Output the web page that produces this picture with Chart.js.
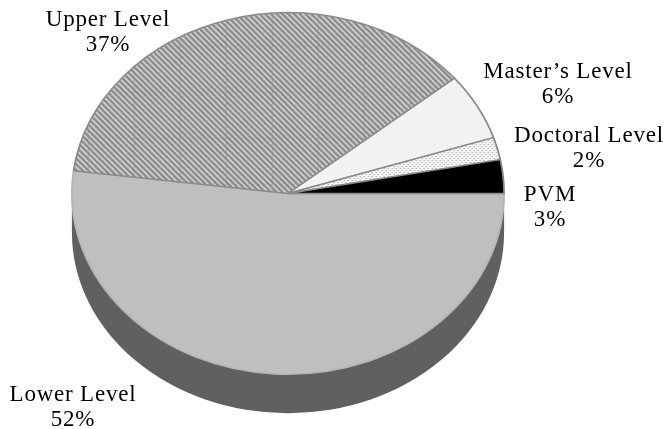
<!DOCTYPE html>
<html>
<head>
<meta charset="utf-8">
<style>
  html, body { margin: 0; padding: 0; background: #fff; }
  #wrap { width: 666px; height: 429px; position: relative; }
</style>
<script src="https://cdn.jsdelivr.net/npm/chart.js@4"></script>
</head>
<body>
<div id="wrap"><canvas id="pieChart" width="666" height="429"></canvas></div>
<script>
const categorias = ['Lower Level', 'Upper Level', "Master's Level", 'Doctoral Level', 'PVM'];
const porcentajes = [52, 37, 6, 2, 3];

// Pie is a circle in chart space; we squash it on x to get the tilted look
const ESCALA_X = 217 / 181.5;
const PROFUNDIDAD = 39;

function patronRayas() {
    const c = document.createElement('canvas');
    c.width = 46; c.height = 46;
    const g = c.getContext('2d');
    g.fillStyle = '#8c8c8c';
    g.fillRect(0, 0, 46, 46);
    g.strokeStyle = '#e4e4e4';
    g.lineWidth = 1.3;
    for (let i = -46; i <= 92; i += 5.75) {
        g.beginPath();
        g.moveTo(i, 0);
        g.lineTo(i + 46, 46);
        g.stroke();
    }
    // faint vertical seams of the original hatch
    g.fillStyle = 'rgba(140,140,140,0.5)';
    g.fillRect(6, 0, 1, 46);
    return c;
}

function patronPuntos() {
    const c = document.createElement('canvas');
    c.width = 4; c.height = 4;
    const g = c.getContext('2d');
    g.fillStyle = '#f4f4f4';
    g.fillRect(0, 0, 4, 4);
    g.fillStyle = '#9a9a9a';
    g.fillRect(0, 0, 1, 1);
    g.fillRect(2, 2, 1, 1);
    return c;
}

function crearPatron(lienzo) {
    const ctx = document.createElement('canvas').getContext('2d');
    const p = ctx.createPattern(lienzo, 'repeat');
    // cancel the x squash so the pattern stays square on screen
    p.setTransform(new DOMMatrix().scale(1 / ESCALA_X, 1));
    return p;
}

const coloresFondo = ['#bfbfbf', crearPatron(patronRayas()), '#f2f2f2', crearPatron(patronPuntos()), '#000000'];
const coloresBorde = ['#b4b4b4', '#8a8a8a', '#8a8a8a', '#8a8a8a', '#8a8a8a'];

const pie3d = {
    id: 'pie3d',
    beforeDatasetsDraw(chart) {
        const ctx = chart.ctx;
        const arc = chart.getDatasetMeta(0).data[0];
        const cx = arc.x, cy = arc.y, r = arc.outerRadius;
        ctx.save();
        ctx.translate(cx, 0);
        ctx.scale(ESCALA_X, 1);
        ctx.translate(-cx, 0);
        // wall below the front half
        ctx.beginPath();
        ctx.arc(cx, cy, r, 0, Math.PI);
        ctx.lineTo(cx - r, cy + PROFUNDIDAD);
        ctx.arc(cx, cy + PROFUNDIDAD, r, Math.PI, 0, true);
        ctx.closePath();
        ctx.fillStyle = '#606060';
        ctx.fill();
    },
    afterDatasetsDraw(chart) {
        chart.ctx.restore();
    }
};

const etiquetas = {
    id: 'etiquetas',
    afterDraw(chart) {
        const ctx = chart.ctx;
        // label centres, same order as categorias
        const sitios = [[73, 401], [108, 26], [558, 78], [589, 142], [550, 201]];
        ctx.save();
        ctx.fillStyle = '#000';
        ctx.font = '23px "Liberation Serif"';
        ctx.letterSpacing = '0.8px';
        ctx.textAlign = 'center';
        ctx.textBaseline = 'alphabetic';
        categorias.forEach((nombre, i) => {
            ctx.fillText(nombre.replace("'", '\u2019'), sitios[i][0], sitios[i][1]);
            ctx.fillText(porcentajes[i] + '%', sitios[i][0], sitios[i][1] + 24.5);
        });
        ctx.restore();
    }
};

new Chart(document.getElementById('pieChart'), {
    type: 'pie',
    data: {
        labels: categorias,
        datasets: [{
            data: porcentajes,
            backgroundColor: coloresFondo,
            borderColor: coloresBorde,
            borderWidth: 1.5,
            borderAlign: 'center'
        }]
    },
    options: {
        responsive: false,
        animation: false,
        rotation: 90,
        layout: { padding: { left: 106.5, right: 196.5, top: 12, bottom: 54 } },
        plugins: { legend: { display: false }, tooltip: { enabled: false } }
    },
    plugins: [pie3d, etiquetas]
});
</script>
</body>
</html>
